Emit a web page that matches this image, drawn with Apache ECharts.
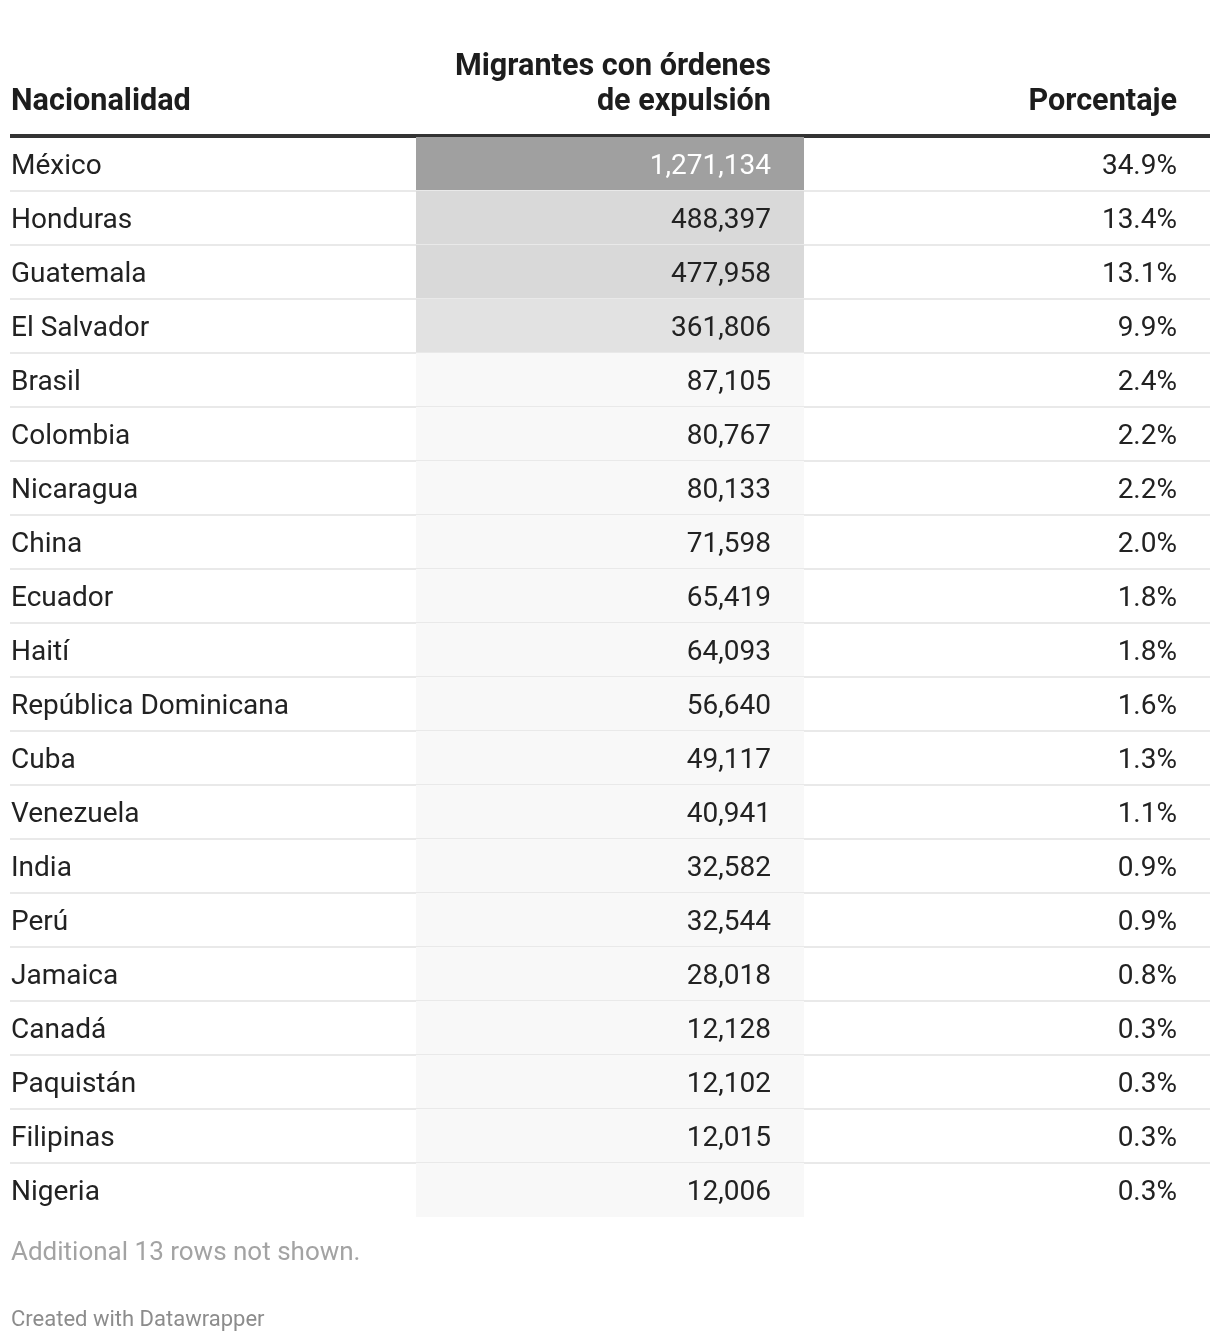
<!DOCTYPE html>
<html>
<head>
<meta charset="utf-8">
<script src="https://cdn.jsdelivr.net/npm/echarts@6/dist/echarts.min.js"></script>
<style>
  html, body { margin: 0; padding: 0; background: #fff; }
  #chart { width: 1220px; height: 1342px; }
</style>
</head>
<body>
<div id="chart"></div>
<script>
var nacionalidades = ['México', 'Honduras', 'Guatemala', 'El Salvador', 'Brasil', 'Colombia', 'Nicaragua',
  'China', 'Ecuador', 'Haití', 'República Dominicana', 'Cuba', 'Venezuela', 'India', 'Perú', 'Jamaica',
  'Canadá', 'Paquistán', 'Filipinas', 'Nigeria'];
var migrantes = [1271134, 488397, 477958, 361806, 87105, 80767, 80133, 71598, 65419, 64093, 56640,
  49117, 40941, 32582, 32544, 28018, 12128, 12102, 12015, 12006];
var porcentajes = [34.9, 13.4, 13.1, 9.9, 2.4, 2.2, 2.2, 2.0, 1.8, 1.8, 1.6, 1.3, 1.1, 0.9, 0.9, 0.8,
  0.3, 0.3, 0.3, 0.3];
var filasOcultas = 13;

// column edges in axis units (grid is 1200 wide)
var COLS = [0, 406, 794, 1200];
var PAD = 33;
var TXT_DY = 3; // small nudge so glyphs sit centred like the original
var FONT = 'Roboto, "Noto Sans", sans-serif';
var HEAD = 'bold 30.6px ' + FONT;

var chart = echarts.init(document.getElementById('chart'));

var datos = migrantes.map(function (v, i) { return [i, v, porcentajes[i]]; });

function renderFila(params, api) {
  var i = api.value(0);
  var h = api.size([0, 1])[1];
  var yc = api.coord([0, i])[1];
  var top = yc - h / 2;
  var ty = yc + TXT_DY;
  var x0 = api.coord([COLS[0], i])[0];
  var x1 = api.coord([COLS[1], i])[0];
  var x2 = api.coord([COLS[2], i])[0];
  var x3 = api.coord([COLS[3], i])[0];
  var v = api.value(1);
  var oscuro = v > 1000000;
  var children = [
    { type: 'rect', shape: { x: x1, y: top, width: x2 - x1, height: h },
      style: { fill: api.visual('color') } },
    { type: 'text', style: { text: nacionalidades[i], x: x0 + 1, y: ty, textAlign: 'left',
      textVerticalAlign: 'middle', font: '28px ' + FONT, fill: '#222' } },
    { type: 'text', style: { text: v.toLocaleString('en-US'), x: x2 - PAD, y: ty, textAlign: 'right',
      textVerticalAlign: 'middle', font: '28px ' + FONT, fill: oscuro ? '#fff' : '#222' } },
    { type: 'text', style: { text: api.value(2).toFixed(1) + '%', x: x3 - PAD, y: ty, textAlign: 'right',
      textVerticalAlign: 'middle', font: '28px ' + FONT, fill: '#222' } }
  ];
  if (i < nacionalidades.length - 1) {
    children.push({ type: 'line', shape: { x1: x0, y1: top + h, x2: x3, y2: top + h },
      style: { stroke: '#e9e9e9', lineWidth: 2 } });
  }
  return { type: 'group', children: children };
}

chart.setOption({
  animation: false,
  grid: { left: 10, right: 10, top: 137, height: 1080 },
  xAxis: {
    type: 'value', min: 0, max: 1200, position: 'top', offset: 1,
    axisLine: { show: true, lineStyle: { color: '#333', width: 4, cap: 'butt' } },
    axisTick: { show: false }, axisLabel: { show: false }, splitLine: { show: false }
  },
  yAxis: {
    type: 'category', data: nacionalidades, inverse: true,
    axisLine: { show: false }, axisTick: { show: false }, axisLabel: { show: false },
    splitLine: { show: false }
  },
  visualMap: {
    show: false, type: 'piecewise', dimension: 1, seriesIndex: 0,
    pieces: [
      { min: 1000000, color: '#a0a0a0' },
      { min: 400000, max: 1000000, color: '#d9d9d9' },
      { min: 200000, max: 400000, color: '#e2e2e2' },
      { max: 200000, color: '#f8f8f8' }
    ]
  },
  series: [{
    type: 'custom',
    renderItem: renderFila,
    encode: { x: 1, y: 0 },
    data: datos
  }],
  graphic: [
    { type: 'text', x: 11, y: 102, style: { text: 'Nacionalidad', textAlign: 'left', textVerticalAlign: 'middle',
      font: HEAD, fill: '#1d1d1d' } },
    { type: 'text', x: 771, y: 85, style: { text: 'Migrantes con órdenes\nde expulsión', textAlign: 'right',
      textVerticalAlign: 'middle', lineHeight: 35, font: HEAD, fill: '#1d1d1d' } },
    { type: 'text', x: 1177, y: 102, style: { text: 'Porcentaje', textAlign: 'right', textVerticalAlign: 'middle',
      font: HEAD, fill: '#1d1d1d' } },
    { type: 'text', x: 11, y: 1253, style: { text: 'Additional ' + filasOcultas + ' rows not shown.',
      textAlign: 'left', textVerticalAlign: 'middle', font: '26px ' + FONT, fill: '#a3a3a3' } },
    { type: 'text', x: 11, y: 1320, style: { text: 'Created with Datawrapper', textAlign: 'left',
      textVerticalAlign: 'middle', font: '22px ' + FONT, fill: '#8c8c8c' } }
  ]
});
</script>
</body>
</html>
